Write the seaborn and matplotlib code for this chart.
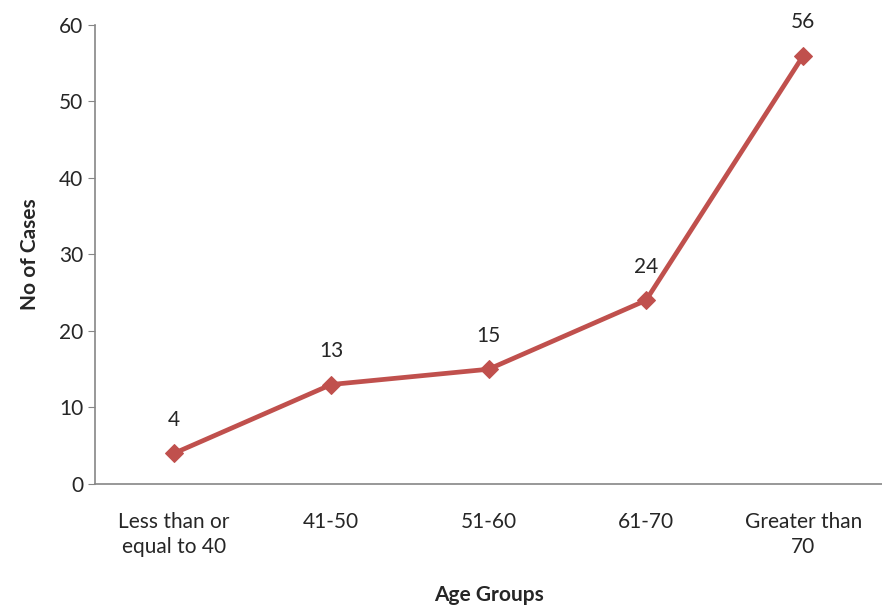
import matplotlib
matplotlib.use("Agg")
import matplotlib.pyplot as plt
import seaborn as sns
import pandas as pd
import numpy as np

categories = ["Less than or\nequal to 40", "41-50", "51-60", "61-70", "Greater than\n70"]
cases = [4, 13, 15, 24, 56]

sns.set_style("white")
plt.rcParams['font.family'] = ['Lato', 'DejaVu Sans']
fig = plt.figure(figsize=(8.82, 6.08), dpi=100)
ax = fig.add_axes([0.108, 0.204, 0.892, 0.755])
df = pd.DataFrame({"x": np.arange(len(categories)), "y": cases})
sns.lineplot(data=df, x="x", y="y", ax=ax, color="#C0504D", linewidth=3.4,
             marker="D", markersize=9, markeredgecolor="#C0504D")
for i, v in enumerate(cases):
    ax.annotate(str(v), (i, v), xytext=(0, 17), textcoords="offset points",
                ha="center", va="bottom", fontsize=15)
ax.set_xlim(-0.5, 4.5)
ax.set_ylim(0, 60)
ax.set_yticks(range(0, 61, 10))
ax.set_xticks(range(5))
ax.set_xticklabels(categories, fontsize=15, linespacing=1.35)
ax.tick_params(axis='y', labelsize=15, length=5, color="#868686", left=True)
ax.tick_params(axis='x', length=0, pad=20)
for s in ["top", "right"]:
    ax.spines[s].set_visible(False)
for s in ["left", "bottom"]:
    ax.spines[s].set_color("#868686")
    ax.spines[s].set_linewidth(1.2)
ax.set_xlabel("Age Groups", fontsize=15, fontweight="bold", labelpad=20)
ax.set_ylabel("No of Cases", fontsize=15, fontweight="bold", labelpad=14)
fig.savefig("out.png", dpi=100)
